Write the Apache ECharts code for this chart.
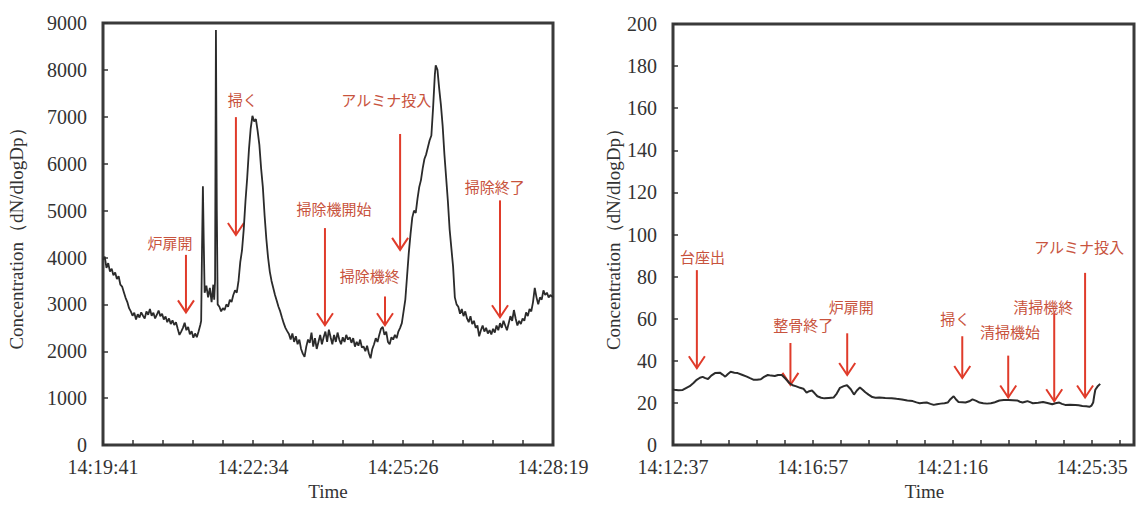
<!DOCTYPE html>
<html>
<head>
<meta charset="utf-8">
<title>Concentration</title>
<script src="https://cdn.jsdelivr.net/npm/echarts@6/dist/echarts.min.js"></script>
<style>html,body{margin:0;background:#fff;}</style>
</head>
<body>
<div id="main" style="width:1137px;height:506px;"></div>
<script type="text/javascript">
// x values are seconds after the first tick time of each panel
var leftTickLabels = ['14:19:41', '14:22:34', '14:25:26', '14:28:19'];
var rightTickLabels = ['14:12:37', '14:16:57', '14:21:16', '14:25:35'];

var leftCurve = [
    [0,3950],[2,4020],[4,3780],[6,3880],[8,3700],[10,3760],[12,3620],[14,3680],[16,3540],[18,3600],
    [20,3420],[22,3380],[24,3260],[26,3140],[28,3050],[30,2920],[32,2850],[34,2760],[36,2820],[38,2680],
    [40,2790],[42,2720],[44,2830],[46,2760],[48,2700],[50,2850],[52,2780],[54,2900],[56,2760],[58,2820],
    [60,2700],[62,2780],[64,2870],[66,2750],[68,2800],[70,2680],[72,2740],[74,2620],[76,2700],[78,2580],
    [80,2660],[82,2560],[84,2620],[86,2480],[88,2350],[90,2420],[92,2500],[94,2610],[96,2450],[98,2520],
    [100,2360],[102,2430],[104,2290],[106,2380],[108,2300],[110,2420],[112,2560],[113,2650],[114,4200],[115,5520],
    [116,4300],[117,3250],[119,3400],[121,3150],[123,3350],[125,3050],[127,3420],[128,3100],[129,3500],[130,8850],
    [131,5000],[132,3000],[134,2950],[136,2850],[138,2920],[140,2880],[142,3000],[144,2950],[146,3100],[148,3050],
    [150,3200],[152,3300],[154,3250],[156,3500],[158,3900],[160,4150],[162,4600],[164,5200],[166,5700],[168,6300],
    [170,6750],[172,7020],[174,6900],[176,6950],[178,6700],[180,6400],[182,5900],[184,5500],[186,4900],[188,4400],
    [190,4000],[192,3700],[194,3500],[196,3350],[198,3200],[200,3080],[202,2950],[204,2850],[206,2720],[208,2600],
    [210,2500],[212,2430],[214,2370],[216,2250],[218,2380],[220,2200],[222,2320],[224,2150],[226,2250],[228,2050],
    [230,1950],[232,1880],[234,2100],[236,2250],[238,2180],[240,2400],[242,2100],[244,2280],[246,2050],[248,2200],
    [250,2350],[252,2150],[254,2300],[256,2420],[258,2200],[260,2460],[262,2300],[264,2150],[266,2350],[268,2200],
    [270,2400],[272,2250],[274,2150],[276,2300],[278,2200],[280,2350],[282,2250],[284,2300],[286,2180],[288,2280],
    [290,2100],[292,2200],[294,2120],[296,2250],[298,2080],[300,2100],[302,2000],[304,2120],[306,1960],[308,1850],
    [310,2050],[312,2150],[314,2280],[316,2200],[318,2350],[320,2480],[322,2520],[324,2350],[326,2420],[328,2200],
    [330,2150],[332,2300],[334,2250],[336,2350],[338,2280],[340,2420],[342,2500],[344,2600],[346,2850],[348,3100],
    [350,3600],[352,4100],[354,4500],[356,4850],[358,5000],[360,4950],[362,5250],[364,5500],[366,5650],[368,5900],
    [370,6100],[372,6200],[374,6350],[376,6500],[378,6600],[380,7200],[382,7900],[383,8100],[385,8000],[387,7600],
    [389,7250],[391,6800],[393,6200],[395,5700],[397,5200],[399,4600],[401,4200],[403,3800],[405,3150],[407,3000],
    [409,2950],[411,2800],[413,2900],[415,2750],[417,2850],[419,2700],[421,2620],[423,2750],[425,2580],[427,2650],
    [429,2500],[431,2550],[433,2320],[435,2450],[437,2550],[439,2420],[441,2500],[443,2380],[445,2450],[447,2360],
    [449,2480],[451,2400],[453,2550],[455,2450],[457,2600],[459,2500],[461,2650],[463,2550],[465,2450],[467,2600],
    [469,2750],[471,2650],[473,2880],[475,2700],[477,2550],[479,2650],[481,2580],[483,2700],[485,2650],[487,2830],
    [489,2750],[491,2900],[493,2850],[495,3050],[497,3350],[499,3150],[501,3000],[503,3150],[505,3100],[507,3300],
    [509,3200],[511,3250],[513,3150],[515,3200],[518,3150]
];

var rightCurve = [
    [0,26.5],[2,26.3],[10,26.0],[18,26.2],[25,27.2],[31,28.0],[38,29.5],[44,31.0],[50,32.0],[55,32.4],
    [60,31.8],[65,31.4],[71,33.0],[78,34.2],[87,34.4],[92,33.5],[97,32.5],[102,33.8],[107,34.8],[114,34.4],
    [120,34.2],[128,33.4],[137,32.5],[143,31.8],[150,31.0],[156,31.0],[163,31.3],[169,32.4],[176,33.3],[182,33.0],
    [189,32.8],[195,33.3],[202,33.3],[209,31.5],[216,29.5],[222,28.4],[229,27.9],[236,27.2],[242,26.8],[248,24.9],
    [253,25.6],[258,25.9],[263,24.6],[268,23.2],[275,22.5],[281,22.2],[289,22.4],[298,22.6],[304,24.5],[310,27.2],
    [317,28.0],[323,28.4],[330,26.5],[336,24.0],[341,25.8],[347,27.4],[352,26.3],[357,25.1],[363,24.0],[370,22.8],
    [376,22.5],[383,22.6],[394,22.4],[406,22.3],[415,22.0],[425,21.7],[435,21.2],[445,20.9],[452,20.3],[458,19.9],
    [465,20.1],[471,20.2],[478,19.6],[484,19.1],[490,19.4],[497,19.7],[504,19.9],[510,20.2],[515,21.8],[521,23.2],
    [526,21.5],[530,20.5],[537,20.4],[543,20.2],[550,20.8],[556,21.7],[563,21.0],[569,20.2],[576,19.9],[583,19.7],
    [590,19.9],[596,20.2],[601,20.7],[606,21.2],[614,21.4],[623,21.4],[631,21.3],[639,21.2],[644,20.6],[649,20.2],
    [654,20.6],[658,20.9],[663,20.4],[668,19.9],[678,20.1],[687,20.5],[695,20.0],[704,19.4],[710,19.9],[717,20.2],
    [722,19.6],[728,19.1],[737,19.2],[747,19.1],[753,18.9],[760,18.6],[767,18.4],[773,18.2],[777,18.8],[780,20.2],
    [782,23.5],[784,26.3],[788,27.8],[793,29.1]
];

// [text, arrow x, arrow top, arrow tip, text x, text y]
var leftNotes = [
    ['炉扉開', 95.5, 4056, 2831, 77, 4310],
    ['掃く', 153, 6993, 4479, 161, 7373],
    ['掃除機開始', 255.5, 4627, 2556, 266, 5049],
    ['掃除機終', 324.6, 3169, 2556, 307, 3613],
    ['アルミナ投入', 342, 6634, 4162, 326, 7373],
    ['掃除終了', 457, 5218, 2725, 451, 5514]
];
var rightNotes = [
    ['台座出', 44.3, 83.1, 36.5, 54.7, 89.6],
    ['整骨終了', 218, 48.5, 28.6, 242, 57.3],
    ['炉扉開', 323.4, 53.1, 33.3, 330.8, 65.6],
    ['掃く', 537, 51.7, 31.9, 524, 60],
    ['清掃機始', 622.3, 42.5, 22.6, 625.7, 54],
    ['清掃機終', 707.7, 62.4, 20.8, 687.4, 65.6],
    ['アルミナ投入', 765, 81.8, 22.6, 754, 94.2]
];

var serif = 'Liberation Serif';
var ink = '#333';
var arrowRed = '#e03b2a';
var textRed = '#c8533d';

var myChart = echarts.init(document.getElementById('main'), null, { renderer: 'svg' });

function xAxisFor(grid, max, interval, labels, namePad) {
    return {
        type: 'value', gridIndex: grid, min: 0, max: max, interval: interval,
        name: 'Time', nameLocation: 'middle', nameGap: namePad[0],
        nameTextStyle: { fontFamily: serif, fontSize: 19, color: ink, padding: [0, 0, 0, namePad[1]] },
        axisLine: { show: false },
        axisTick: { show: true, inside: true, length: 5, lineStyle: { color: ink, width: 1.5 } },
        splitLine: { show: false },
        axisLabel: {
            fontFamily: serif, fontSize: 20, color: ink, margin: 12,
            showMinLabel: true, showMaxLabel: true, hideOverlap: false,
            formatter: function (v) {
                var k = Math.round(v / interval);
                if (k % 5 !== 0) return '';
                return labels[k / 5] || '';
            }
        }
    };
}

function yAxisFor(grid, max, interval, gap) {
    return {
        type: 'value', gridIndex: grid, min: 0, max: max, interval: interval,
        name: 'Concentration（dN/dlogDp）', nameLocation: 'middle', nameGap: gap,
        nameTextStyle: { fontFamily: serif, fontSize: 19, color: ink },
        axisLine: { show: false },
        axisTick: { show: true, inside: true, length: 5, lineStyle: { color: ink, width: 1.5 } },
        splitLine: { show: false },
        axisLabel: {
            fontFamily: serif, fontSize: 20, color: ink, margin: 16,
            formatter: function (v) { return String(v); }
        }
    };
}

function notesSeries(notes, idx) {
    return {
        type: 'custom', xAxisIndex: idx, yAxisIndex: idx, clip: false, silent: true,
        data: notes.map(function (n) { return [n[1], n[2], n[3], n[4], n[5]]; }),
        encode: { x: [0, 3], y: [1, 2, 4] },
        renderItem: function (params, api) {
            var top = api.coord([api.value(0), api.value(1)]);
            var tip = api.coord([api.value(0), api.value(2)]);
            var lab = api.coord([api.value(3), api.value(4)]);
            return {
                type: 'group',
                children: [
                    { type: 'line', shape: { x1: top[0], y1: top[1], x2: tip[0], y2: tip[1] },
                      style: { stroke: arrowRed, lineWidth: 2 } },
                    { type: 'polyline',
                      shape: { points: [[tip[0] - 8, tip[1] - 12], [tip[0], tip[1]], [tip[0] + 8, tip[1] - 12]] },
                      style: { stroke: arrowRed, lineWidth: 2, fill: null } },
                    { type: 'text', x: lab[0], y: lab[1],
                      style: { text: notes[params.dataIndex][0], fill: textRed,
                               fontFamily: 'Noto Sans CJK JP', fontSize: 15, fontWeight: 'normal',
                               align: 'center', verticalAlign: 'middle' } }
                ]
            };
        }
    };
}

var option = {
    backgroundColor: '#fff',
    animation: false,
    textStyle: { fontFamily: serif },
    grid: [
        { left: 103, top: 23, width: 450, height: 426, show: true, borderColor: '#3a3a3a', borderWidth: 3 },
        { left: 673, top: 24, width: 463, height: 433, show: true, borderColor: '#3a3a3a', borderWidth: 3 }
    ],
    xAxis: [
        xAxisFor(0, 518, 518 / 15, leftTickLabels, [34, 0]),
        xAxisFor(1, 855.8, 778 / 15, rightTickLabels, [30, 42])
    ],
    yAxis: [
        yAxisFor(0, 9000, 1000, 77),
        yAxisFor(1, 200, 20, 43)
    ],
    series: [
        { type: 'line', xAxisIndex: 0, yAxisIndex: 0, data: leftCurve, showSymbol: false,
          lineStyle: { color: '#2b2b2b', width: 1.8 } },
        { type: 'line', xAxisIndex: 1, yAxisIndex: 1, data: rightCurve, showSymbol: false,
          lineStyle: { color: '#2b2b2b', width: 2 } },
        notesSeries(leftNotes, 0),
        notesSeries(rightNotes, 1)
    ]
};

myChart.setOption(option);
</script>
</body>
</html>
